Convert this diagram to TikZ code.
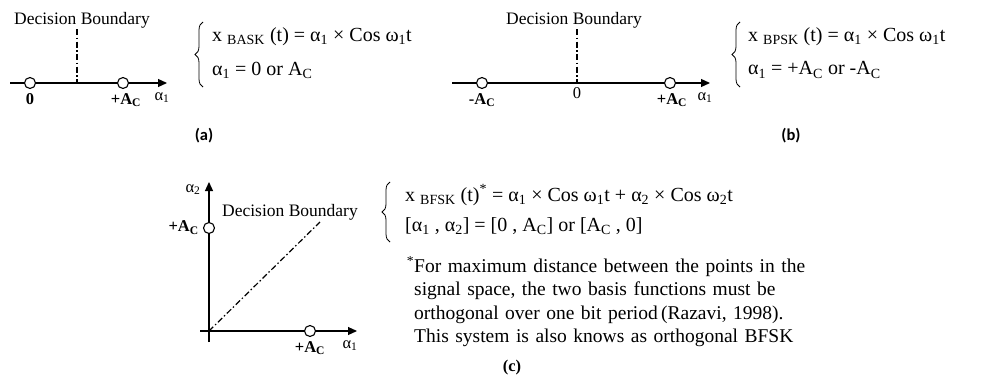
\documentclass[tikz,border=0pt]{standalone}
\usepackage{fontspec}
\setmainfont{Liberation Serif}
\newfontfamily\capfont{Carlito}
\usetikzlibrary{arrows.meta, positioning, decorations.pathreplacing, calc}
\newcommand{\Ac}{A\textsubscript{C}}
\newcommand{\al}[1]{α\textsubscript{#1}}

\begin{document}
\begin{tikzpicture}[
    x=1pt, y=-1pt,
    node distance=3pt,
    axis/.style={-{Triangle[length=9pt,width=8pt]}, line width=1.2pt},
    dbnd/.style={line width=1.2pt, dash pattern=on 6pt off 2.5pt on 1.5pt off 2.5pt},
    pt/.style={circle, draw, line width=1.1pt, fill=white, minimum size=11pt, inner sep=0pt},
    lbl/.style={inner sep=1pt, text height=11pt, text depth=4pt, font=\fontsize{16.5}{19}\selectfont},
    dec/.style={inner sep=1pt, font=\fontsize{17.5}{20}\selectfont},
    eqn/.style={inner sep=0pt, anchor=west, font=\fontsize{20}{24}\selectfont},
    brc/.style={decorate, decoration={brace, amplitude=8pt}, line width=0.8pt},
    fnote/.style={inner sep=0pt, anchor=north west, text width=394pt, align=left,
                  font=\fontsize{19.5}{23.3}\selectfont},
    figcap/.style={inner sep=0pt, font=\fontsize{16.5}{19}\selectfont\bfseries}
  ]
  \useasboundingbox (0,0) rectangle (1001,378);

  % (a) BASK
  \coordinate (a0) at (10,83);
  \coordinate (a1) at (167,83);
  \coordinate (aB) at (77,83);
  \draw[axis] (a0) -- (a1);
  \node[dec] (aDec) at (82,20) {Decision Boundary};
  \draw[dbnd] (aDec.south -| aB) -- (aB);
  \node[pt] (aZ) at (30,83) {};
  \node[pt] (aA) at (123,83) {};
  \node[lbl, below=of aZ] (aZl) {\textbf{0}};
  \node[lbl, below=of aA, xshift=3pt] (aAl) {\textbf{+\Ac}};
  \node[lbl, anchor=base] (aX) at (162,100) {\al{1}};
  \node[eqn] (aE1) at (212,37) {x \textsubscript{BASK} (t) = \al{1} × Cos ω\textsubscript{1}t};
  \node[eqn] (aE2) at (212,70) {\al{1} = 0 or \Ac};
  \draw[brc] (203,87) -- (203,22);
  \node[figcap] (aCap) at (204,136) {\capfont (a)};

  % (b) BPSK
  \coordinate (b0) at (452,83);
  \coordinate (b1) at (710,83);
  \coordinate (bB) at (577,83);
  \draw[axis] (b0) -- (b1);
  \node[dec] (bDec) at (574,20) {Decision Boundary};
  \draw[dbnd] (bDec.south -| bB) -- (bB);
  \node[pt] (bM) at (482,83) {};
  \node[pt] (bP) at (670,83) {};
  \node[lbl, below=of bM] (bMl) {\textbf{-\Ac}};
  \node[lbl, below=of bB] (bZl) {0};
  \node[lbl, below=of bP, xshift=2pt] (bPl) {\textbf{+\Ac}};
  \node[lbl, anchor=base] (bX) at (705,100) {\al{1}};
  \node[eqn] (bE1) at (748,37) {x \textsubscript{BPSK} (t) = \al{1} × Cos ω\textsubscript{1}t};
  \node[eqn] (bE2) at (748,70) {\al{1} = +\Ac{} or -\Ac};
  \draw[brc] (740,87) -- (740,22);
  \node[figcap] (bCap) at (791,136) {\capfont (b)};

  % (c) BFSK
  \coordinate (cO) at (209,331);
  \coordinate (cX0) at (200,331);
  \coordinate (cX1) at (357,331);
  \coordinate (cY0) at (209,342);
  \coordinate (cY1) at (209,182);
  \coordinate (cD) at (320,222);
  \draw[axis] (cX0) -- (cX1);
  \draw[axis] (cY0) -- (cY1);
  \draw[dbnd] (cO) -- (cD);
  \node[dec] (cDec) at (290,212) {Decision Boundary};
  \node[pt] (cA2) at (209,228) {};
  \node[pt] (cA1) at (310,331) {};
  \node[lbl, left=of cA2] (cA2l) {\textbf{+\Ac}};
  \node[lbl, below=of cA1] (cA1l) {\textbf{+\Ac}};
  \node[lbl, anchor=base] (cX) at (350,348) {\al{1}};
  \node[lbl, anchor=base] (cY) at (193,192) {\al{2}};
  \node[eqn] (cE1) at (405,195) {x \textsubscript{BFSK} (t)\textsuperscript{*} = \al{1} × Cos ω\textsubscript{1}t + \al{2} × Cos ω\textsubscript{2}t};
  \node[eqn] (cE2) at (405,226) {[\al{1} , \al{2}] = [0 , \Ac] or [\Ac{} , 0]};
  \draw[brc] (390,242) -- (390,182);
  \node[fnote] (cNote) at (414,256) {%
    \makebox[\linewidth][s]{\llap{\textsuperscript{*}}For maximum distance between the points in the}\\
    \makebox[\linewidth][s]{signal space, the two basis functions must be}\\
    \makebox[\linewidth][s]{orthogonal over one bit period\,(Razavi, 1998).}\\
    This system is also knows as orthogonal BFSK};
  \node[figcap] (cCap) at (512,368) {(c)};
\end{tikzpicture}
\end{document}
